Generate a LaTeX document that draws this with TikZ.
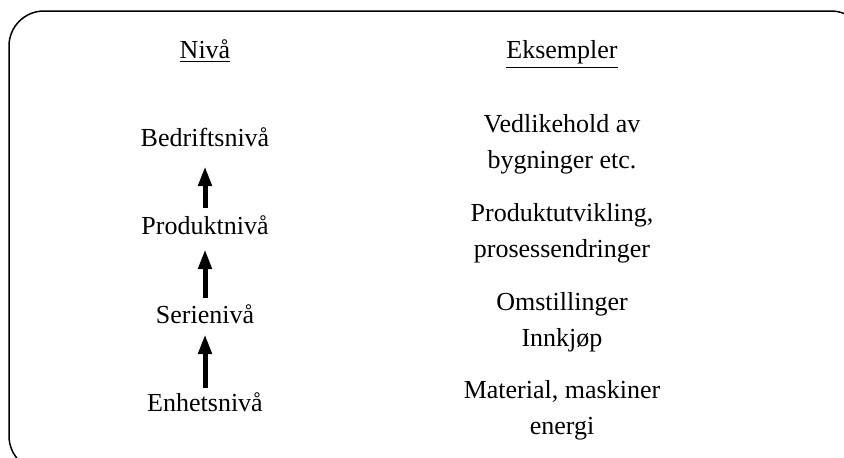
\documentclass[tikz,border=0pt]{standalone}
\usepackage{fontspec}
\setmainfont{Liberation Serif}
\usepackage{tikz}
\usetikzlibrary{arrows.meta}
\newcommand{\undl}[1]{\vtop{\hbox{#1}\kern3pt\hrule height 1.2pt}}

\begin{document}
\begin{tikzpicture}[x=1pt,y=-1pt,
    >={Triangle[length=20pt,width=13pt]},
    lvl/.style={inner sep=0pt,text height=18pt,text depth=0pt,anchor=base,font=\fontsize{26}{36}\selectfont},
    ex/.style={inner sep=0pt,align=center,anchor=base,font=\fontsize{26}{36}\selectfont}]
  \clip (0,0) rectangle (844,458);
  \draw[line width=1.5pt,rounded corners=35pt] (9,11) rectangle (866,471);
  % headers
  \node[lvl] (hn) at (205,58) {\undl{Nivå}};
  \node[lvl] (he) at (562,58) {\undl{Eksempler}};
  % levels
  \node[lvl] (l0) at (205,146) {Bedriftsnivå};
  \node[lvl] (l1) at (205,234) {Produktnivå};
  \node[lvl] (l2) at (205,323) {Serienivå};
  \node[lvl] (l3) at (205,411) {Enhetsnivå};
  % examples (base = last line)
  \node[ex] (e0) at (562,168) {Vedlikehold av\\bygninger etc.};
  \node[ex] (e1) at (562,257) {Produktutvikling,\\prosessendringer};
  \node[ex] (e2) at (562,346) {Omstillinger\\Innkjøp};
  \node[ex] (e3) at (562,434) {Material, maskiner\\energi};
  \draw[->, line width=5pt, shorten <=8pt, shorten >=20pt] (l1.north) -- (l0.south);
  \draw[->, line width=5pt, shorten <=7pt, shorten >=15pt] (l2.north) -- (l1.south);
  \draw[->, line width=5pt, shorten <=5pt, shorten >=11pt] (l3.north) -- (l2.south);
\end{tikzpicture}
\end{document}
